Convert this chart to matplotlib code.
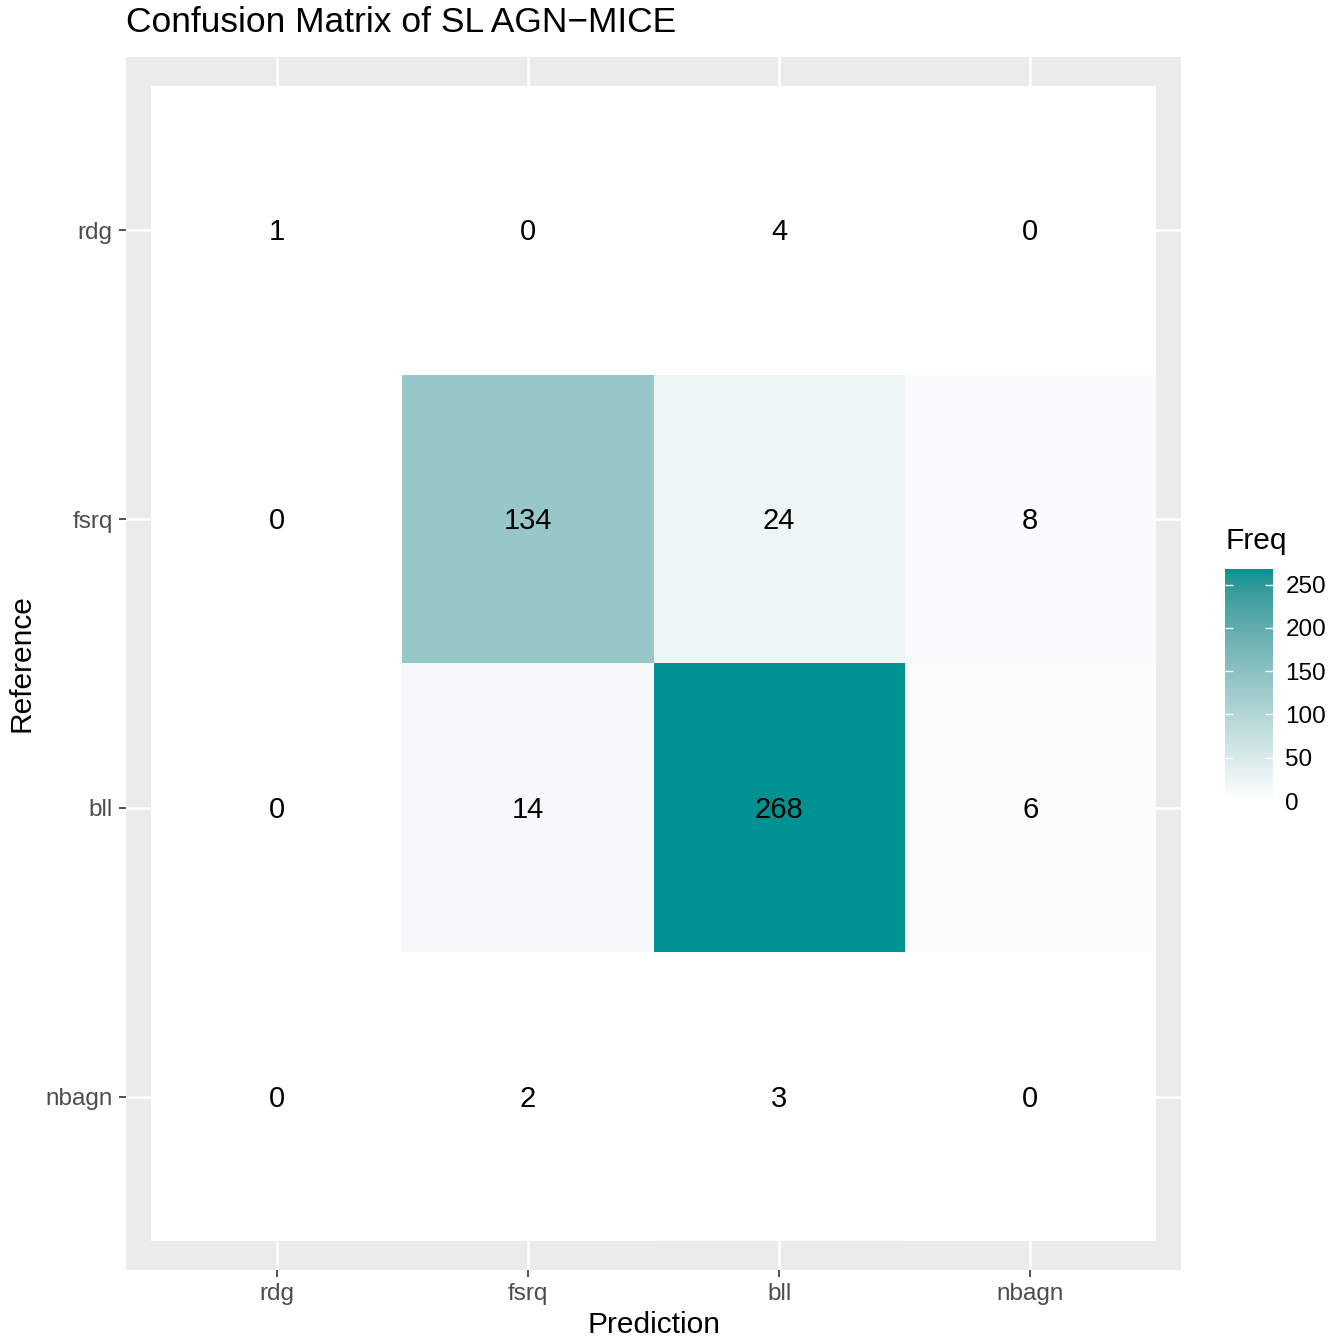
import numpy as np
import matplotlib
matplotlib.use("Agg")
import matplotlib.pyplot as plt
from matplotlib.colors import ListedColormap, Normalize
from matplotlib.cm import ScalarMappable
from matplotlib.transforms import offset_copy

plt.rcParams["font.family"] = ["Liberation Sans", "DejaVu Sans"]

# Confusion matrix: rows = Reference, columns = Prediction
classes = ["rdg", "fsrq", "bll", "nbagn"]
freq_rdg = [1, 0, 4, 0]
freq_fsrq = [0, 134, 24, 8]
freq_bll = [0, 14, 268, 6]
freq_nbagn = [0, 2, 3, 0]
colorbar_ticks = [0, 50, 100, 150, 200, 250]

counts = np.array([freq_rdg, freq_fsrq, freq_bll, freq_nbagn])


# --- gradient from white to teal, interpolated in CIELAB space ---
def srgb_to_lab(rgb):
    rgb = np.asarray(rgb, float)
    lin = np.where(rgb <= 0.04045, rgb / 12.92, ((rgb + 0.055) / 1.055) ** 2.4)
    m = np.array([[0.4124, 0.3576, 0.1805],
                  [0.2126, 0.7152, 0.0722],
                  [0.0193, 0.1192, 0.9505]])
    xyz = lin @ m.T / np.array([0.95047, 1.0, 1.08883])
    f = np.where(xyz > 0.008856, np.cbrt(xyz), 7.787 * xyz + 16 / 116)
    L = 116 * f[..., 1] - 16
    a = 500 * (f[..., 0] - f[..., 1])
    b = 200 * (f[..., 1] - f[..., 2])
    return np.stack([L, a, b], axis=-1)


def lab_to_srgb(lab):
    L, a, b = lab[..., 0], lab[..., 1], lab[..., 2]
    fy = (L + 16) / 116
    fx = fy + a / 500
    fz = fy - b / 200
    f = np.stack([fx, fy, fz], axis=-1)
    xyz = np.where(f ** 3 > 0.008856, f ** 3, (f - 16 / 116) / 7.787)
    xyz = xyz * np.array([0.95047, 1.0, 1.08883])
    minv = np.array([[3.2406, -1.5372, -0.4986],
                     [-0.9689, 1.8758, 0.0415],
                     [0.0557, -0.2040, 1.0570]])
    lin = xyz @ minv.T
    lin = np.clip(lin, 0, 1)
    rgb = np.where(lin <= 0.0031308, 12.92 * lin, 1.055 * lin ** (1 / 2.4) - 0.055)
    return np.clip(rgb, 0, 1)


low = np.array([1.0, 1.0, 1.0])
high = np.array([0, 145, 147]) / 255.0
lab_lo, lab_hi = srgb_to_lab(low), srgb_to_lab(high)
t = np.linspace(0, 1, 256)[:, None]
cmap = ListedColormap(lab_to_srgb(lab_lo + t * (lab_hi - lab_lo)))
norm = Normalize(vmin=0, vmax=counts.max())

W, H = 1341, 1340
fig = plt.figure(figsize=(W / 100, H / 100), dpi=100)

px_l, px_r, px_t, px_b = 126, 1181, 57, 1270
ax = fig.add_axes([px_l / W, 1 - px_b / H, (px_r - px_l) / W, (px_b - px_t) / H])
ax.set_facecolor("#EBEBEB")
for s in ax.spines.values():
    s.set_visible(False)

n = len(classes)
pos = np.arange(1, n + 1)
edges = np.arange(0.5, n + 1.5)
ax.pcolormesh(edges, edges, counts, cmap=cmap, norm=norm, zorder=2,
              edgecolor="none", linewidth=0)
cell_tf = offset_copy(ax.transData, fig=fig, x=0, y=-2, units="dots")
for i in range(n):
    for j in range(n):
        ax.text(pos[j], pos[i], str(counts[i, j]), ha="center", va="center",
                fontsize=21, color="black", zorder=3, transform=cell_tf)

ax.set_xlim(0.4, n + 0.6)
ax.set_ylim(n + 0.6, 0.4)
ax.set_xticks(pos)
ax.set_xticklabels(classes)
ax.set_yticks(pos)
ax.set_yticklabels(classes)
ax.grid(True, color="white", linewidth=1.9, zorder=1)
ax.set_axisbelow(True)
ax.tick_params(axis="both", length=5, width=1.2, color="#333333",
               labelcolor="#4D4D4D", labelsize=17.5, pad=4.5)

fig.text(653.5 / W, 1 - 1325 / H, "Prediction", ha="center", va="center",
         fontsize=21.5, color="black")
fig.text(22 / W, 1 - 663 / H, "Reference", ha="center", va="center",
         rotation=90, fontsize=21.5, color="black")
fig.text(126 / W, 1 - 23 / H, "Confusion Matrix of SL AGN\u2212MICE",
         ha="left", va="center", fontsize=25.5, color="black")

# colour bar legend
cb_l, cb_r, cb_t, cb_b = 1225, 1273, 569, 801
cax = fig.add_axes([cb_l / W, 1 - cb_b / H, (cb_r - cb_l) / W, (cb_b - cb_t) / H])
cb = fig.colorbar(ScalarMappable(norm=norm, cmap=cmap), cax=cax, ticks=colorbar_ticks)
cb.outline.set_visible(False)
cax.tick_params(axis="y", direction="in", color="white", length=6, width=1,
                left=True, right=True, labelleft=False, labelright=True,
                labelsize=17.5, labelcolor="black", pad=9)
fig.text(1226 / W, 1 - 541 / H, "Freq", ha="left", va="center",
         fontsize=21.5, color="black")

fig.savefig("out.png", dpi=100, facecolor="white")
